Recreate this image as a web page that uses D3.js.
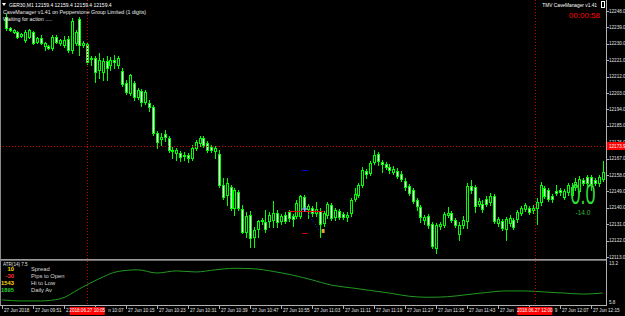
<!DOCTYPE html>
<html>
<head>
<meta charset="utf-8">
<script src="https://cdn.jsdelivr.net/npm/d3@7"></script>
<style>
body { margin: 0; background: #000; }
svg { display: block; }
text { font-family: "Liberation Sans", Arial, sans-serif; }
</style>
</head>
<body>
<svg id="chart" width="625" height="316"></svg>
<script>
// GER30 M1 bars, 27 Jun 2018 from 09:44, [open, high, low, close]
var firstBar = 1;
var candles = [
    [12244.7,12246.4,12237.6,12238.7],[12238.7,12239.2,12237.0,12237.6],[12236.5,12238.1,12235.9,12237.6],[12236.5,12237.0,12233.2,12233.7],
    [12234.3,12235.9,12233.7,12235.4],[12232.1,12237.6,12231.0,12236.5],[12233.7,12238.1,12233.2,12237.6],[12236.5,12237.0,12229.9,12230.4],
    [12231.0,12233.7,12230.4,12233.2],[12233.2,12234.8,12229.9,12230.4],[12228.8,12231.0,12226.6,12230.4],[12228.8,12229.3,12227.1,12227.7],
    [12227.7,12234.8,12226.6,12233.7],[12233.7,12234.8,12230.4,12231.0],[12230.4,12232.6,12229.3,12232.1],[12229.3,12234.3,12228.2,12232.1],
    [12232.6,12234.3,12225.5,12226.6],[12226.6,12244.2,12225.0,12242.5],[12230.4,12237.6,12229.3,12236.5],[12243.6,12244.7,12223.9,12229.3],
    [12229.3,12231.5,12228.2,12230.4],[12229.9,12231.0,12218.9,12220.0],[12221.6,12223.3,12218.4,12222.2],[12222.2,12223.3,12209.0,12214.5],
    [12215.6,12225.0,12211.2,12221.1],[12214.5,12222.2,12210.1,12220.6],[12220.6,12223.3,12210.1,12216.7],[12218.4,12222.7,12215.6,12221.1],
    [12221.1,12223.9,12216.7,12220.0],[12218.4,12223.3,12216.7,12222.2],[12215.1,12216.7,12206.8,12207.9],[12208.5,12210.1,12202.4,12203.5],
    [12203.0,12213.4,12201.9,12212.9],[12208.5,12209.6,12199.2,12200.8],[12200.8,12205.7,12199.7,12204.6],[12204.1,12205.2,12195.9,12198.1],
    [12198.1,12204.6,12197.0,12203.5],[12197.5,12199.2,12193.1,12195.3],[12195.3,12196.4,12179.9,12181.0],[12181.0,12182.1,12172.8,12176.1],
    [12177.8,12181.0,12174.5,12178.8],[12180.5,12182.7,12176.7,12178.8],[12178.3,12179.4,12170.6,12171.7],[12171.7,12173.4,12167.3,12171.2],
    [12170.1,12172.8,12166.2,12171.7],[12170.1,12171.2,12165.7,12167.9],[12169.0,12170.6,12166.2,12168.4],[12169.0,12170.1,12165.1,12167.3],
    [12167.3,12174.5,12166.2,12172.8],[12172.8,12177.2,12171.7,12176.1],[12175.6,12179.4,12173.9,12178.3],[12178.3,12179.4,12173.4,12174.5],
    [12175.6,12176.7,12170.6,12171.7],[12173.4,12174.5,12170.6,12171.7],[12171.2,12173.9,12167.3,12172.8],[12169.5,12171.7,12151.4,12152.5],
    [12152.5,12156.4,12144.8,12145.9],[12147.0,12156.4,12141.5,12153.6],[12151.4,12152.5,12138.8,12139.9],[12139.9,12150.9,12136.0,12149.8],
    [12148.7,12149.8,12138.8,12139.9],[12139.3,12141.5,12126.2,12126.7],[12126.7,12137.7,12124.0,12135.5],[12136.0,12138.2,12118.5,12123.4],
    [12124.0,12129.5,12118.5,12127.8],[12128.4,12133.3,12124.0,12132.8],[12133.3,12134.4,12131.1,12132.8],[12132.2,12138.8,12126.7,12128.4],
    [12132.8,12137.7,12129.5,12136.0],[12133.3,12143.7,12129.5,12137.1],[12137.1,12138.8,12129.5,12132.2],[12132.8,12136.6,12131.1,12135.5],
    [12136.0,12137.7,12131.7,12132.8],[12137.7,12138.8,12132.8,12134.4],[12135.5,12136.6,12130.0,12133.9],[12135.5,12144.3,12134.4,12142.6],
    [12135.5,12147.0,12134.4,12146.5],[12145.9,12147.0,12138.8,12140.4],[12139.3,12142.1,12134.4,12141.0],[12139.9,12141.0,12135.5,12137.1],
    [12137.1,12143.2,12135.5,12139.3],[12138.2,12139.9,12124.0,12131.1],[12131.7,12138.2,12130.0,12137.1],[12136.0,12143.2,12134.4,12142.1],
    [12141.5,12142.6,12133.3,12134.4],[12134.9,12139.9,12133.3,12138.8],[12138.2,12139.3,12133.9,12134.9],[12136.6,12137.7,12133.9,12134.9],
    [12134.9,12137.7,12132.8,12136.0],[12137.1,12145.4,12135.5,12144.3],[12144.8,12150.9,12143.7,12147.6],[12147.0,12153.6,12145.9,12152.5],
    [12152.5,12162.4,12151.4,12160.7],[12160.2,12161.3,12156.4,12158.5],[12159.1,12165.7,12158.0,12164.6],[12165.1,12171.7,12164.0,12169.0],
    [12169.5,12170.6,12163.5,12165.7],[12165.1,12166.2,12159.6,12164.0],[12164.0,12165.1,12161.3,12162.4],[12162.4,12164.0,12159.1,12160.7],
    [12159.6,12162.9,12158.5,12161.3],[12160.2,12161.8,12156.4,12157.4],[12158.5,12160.2,12154.7,12155.8],[12154.7,12156.4,12149.8,12151.4],
    [12152.0,12153.1,12147.0,12148.1],[12149.8,12150.9,12142.6,12143.7],[12144.3,12145.4,12138.8,12141.0],[12140.4,12141.5,12132.2,12134.9],
    [12133.3,12136.0,12131.1,12134.9],[12135.5,12136.6,12128.9,12130.6],[12131.1,12132.2,12117.9,12119.0],[12117.9,12131.7,12115.2,12130.6],
    [12130.0,12132.2,12128.4,12131.1],[12130.6,12137.7,12129.5,12136.6],[12136.0,12140.4,12134.9,12137.1],[12137.1,12138.2,12132.2,12133.3],
    [12133.3,12134.4,12129.5,12130.6],[12125.6,12132.2,12122.3,12130.6],[12130.6,12135.5,12128.9,12133.3],[12132.8,12153.6,12128.9,12152.0],
    [12152.0,12155.3,12148.1,12149.8],[12151.4,12152.5,12137.7,12141.0],[12142.1,12145.4,12141.0,12143.7],[12142.1,12144.3,12137.7,12139.3],
    [12144.8,12146.5,12141.0,12142.1],[12143.2,12148.1,12141.5,12146.5],[12146.5,12147.6,12131.7,12132.8],[12131.7,12134.9,12130.0,12133.9],
    [12132.8,12133.9,12127.8,12128.9],[12128.4,12134.9,12122.3,12133.9],[12131.7,12136.0,12130.0,12134.4],[12133.3,12134.4,12128.4,12129.5],
    [12133.9,12138.8,12132.2,12137.7],[12137.1,12141.0,12136.0,12139.9],[12139.3,12142.6,12138.2,12141.5],[12139.9,12141.0,12136.6,12137.7],
    [12138.8,12141.5,12137.1,12139.9],[12139.9,12145.4,12131.1,12143.2],[12143.2,12154.2,12141.5,12152.5],[12150.9,12152.0,12145.4,12146.5],
    [12149.8,12150.9,12143.7,12144.8],[12146.5,12147.6,12143.2,12144.8],[12149.2,12152.5,12147.0,12148.1],[12149.8,12150.9,12147.0,12148.7],
    [12145.9,12150.3,12144.8,12149.2],[12148.7,12153.6,12147.0,12152.5],[12147.0,12153.6,12145.9,12151.4],[12151.4,12156.4,12149.8,12154.2],
    [12149.2,12157.4,12148.1,12155.8],[12155.3,12156.4,12152.5,12153.6],[12156.9,12158.0,12152.0,12153.6],[12156.9,12158.0,12149.8,12153.1],
    [12155.3,12156.4,12152.5,12153.6],[12153.6,12158.0,12152.0,12156.9],[12155.8,12165.7,12154.7,12159.6]
];

var priceTicks = [12113, 12122, 12131, 12140, 12149, 12158, 12167, 12176, 12185, 12194, 12203, 12212, 12221, 12230, 12239, 12248];

var timeTickBars = [0, 8, 16, 24, 32, 40, 48, 56, 64, 72, 80, 88, 96, 104, 112, 120, 128, 136, 144, 152];
var timeTickLabels = ["27 Jun 2018", "27 Jun 09:51", "27 Jun 09:59", "27 Jun 10:07", "27 Jun 10:15", "27 Jun 10:23",
    "27 Jun 10:31", "27 Jun 10:39", "27 Jun 10:47", "27 Jun 10:55", "27 Jun 11:03", "27 Jun 11:11", "27 Jun 11:19",
    "27 Jun 11:27", "27 Jun 11:35", "27 Jun 11:43", "27 Jun 11:51", "27 Jun 11:59", "27 Jun 12:07", "27 Jun 12:15"];

// ATR(14), read every 5 bars
var atrBars = [0, 5, 10, 15, 20, 25, 30, 35, 40, 45, 50, 55, 60, 65, 70, 75, 80, 85, 90, 95, 100, 105, 110, 115, 120, 125, 130, 135, 140, 145, 150, 155];
var atrValues = [6.2, 6.0, 6.0, 6.4, 8.3, 10.2, 11.6, 11.9, 11.3, 11.7, 11.5, 11.9, 12.2, 12.1, 11.6, 10.9, 10.0, 9.0, 8.5, 8.0, 7.5, 6.9, 6.7, 6.8, 7.2, 7.6, 7.9, 7.9, 7.7, 7.5, 7.3, 7.5];
var atrTicks = [5.8, 13.2];

// crosshair style lines
var vLineBars = [22, 137.5];
var vLineLabels = ["2018.06.27 10:05", "2018.06.27 12:00"];
var hLinePrice = 12173.9;

// CaveManager info block
var infoValues = ["10", "-30", "1543", "1895"];
var infoNames = ["Spread", "Pips to Open", "Hi to Low", "Daily Av"];
var infoColors = ["#ffd700", "#ff3030", "#ffd700", "#32cd32"];

(function() {
    var svg = d3.select("#chart");
    var plotRight = 606, mainBottom = 259, atrTop = 261, atrBottom = 304, axisY = 305;

    var x = d3.scaleLinear().domain([0, 155]).range([2, 602.6]);
    var y = d3.scaleLinear().domain([12113, 12248]).range([257, 11]);
    var yAtr = d3.scaleLinear().domain([5.8, 13.2]).range([302, 263]);

    svg.append("rect").attr("width", 625).attr("height", 316).attr("fill", "#000");

    var defs = svg.append("defs");
    defs.append("clipPath").attr("id", "mainClip").append("rect")
        .attr("x", 0).attr("y", 0).attr("width", plotRight).attr("height", mainBottom);
    defs.append("clipPath").attr("id", "atrClip").append("rect")
        .attr("x", 0).attr("y", atrTop).attr("width", plotRight).attr("height", atrBottom - atrTop);

    function cx(i) { return Math.round(x(i + firstBar)); }

    // candles
    var g = svg.append("g").attr("clip-path", "url(#mainClip)");
    var bars = g.selectAll("g.bar").data(candles).enter().append("g").attr("class", "bar");

    bars.append("line")
        .attr("x1", function(d, i) { return cx(i) + 0.5; })
        .attr("x2", function(d, i) { return cx(i) + 0.5; })
        .attr("y1", function(d) { return Math.round(y(d[1])); })
        .attr("y2", function(d) { return Math.round(y(d[2])) + 1; })
        .attr("stroke", "#00ff00");

    bars.append("rect")
        .attr("x", function(d, i) { return cx(i) - 0.5; })
        .attr("y", function(d) { return Math.round(y(Math.max(d[0], d[3]))) + 0.5; })
        .attr("width", 2)
        .attr("height", function(d) {
            var h = Math.round(y(Math.min(d[0], d[3]))) - Math.round(y(Math.max(d[0], d[3])));
            return Math.max(h, 1);
        })
        .attr("fill", function(d) { return d[3] < d[0] ? "#ffffff" : "#000000"; })
        .attr("stroke", "#00ff00");

    // trade objects around 11:00
    g.append("line")
        .attr("x1", x(74)).attr("x2", x(83))
        .attr("y1", Math.round(y(12138.2)) + 0.5).attr("y2", Math.round(y(12138.2)) + 0.5)
        .attr("stroke", "#e00000");
    g.append("line")
        .attr("x1", x(78) - 2).attr("x2", x(78) + 3)
        .attr("y1", Math.round(y(12160.7)) + 0.5).attr("y2", Math.round(y(12160.7)) + 0.5)
        .attr("stroke", "#0000ee");
    g.append("line")
        .attr("x1", x(78) - 2).attr("x2", x(78) + 3)
        .attr("y1", Math.round(y(12126.2)) + 0.5).attr("y2", Math.round(y(12126.2)) + 0.5)
        .attr("stroke", "#e00000");
    g.append("line")
        .attr("x1", x(79)).attr("x2", x(82))
        .attr("y1", y(12136.6)).attr("y2", y(12127.3))
        .attr("stroke", "#1a3cff").attr("stroke-dasharray", "1,2");
    g.append("path")
        .attr("d", "M" + (x(78) - 2) + "," + y(12139.3) + "h5M" + (x(78) + 0.5) + "," + (y(12139.3) - 2.5) + "v5")
        .attr("stroke", "#8fb4ff").attr("stroke-width", 1.5);
    g.append("rect")
        .attr("x", x(83) - 2).attr("y", y(12127.3) - 2).attr("width", 3).attr("height", 4)
        .attr("fill", "#f0a040");

    // horizontal dotted line
    svg.append("line")
        .attr("x1", 0).attr("x2", plotRight)
        .attr("y1", Math.round(y(hLinePrice)) + 0.5).attr("y2", Math.round(y(hLinePrice)) + 0.5)
        .attr("stroke", "#d00000").attr("stroke-dasharray", "1,2");

    // ATR panel
    svg.append("line").attr("x1", 0).attr("x2", plotRight).attr("y1", mainBottom + 0.5).attr("y2", mainBottom + 0.5).attr("stroke", "#9a9a9a");
    svg.append("line").attr("x1", 0).attr("x2", plotRight).attr("y1", atrTop - 0.5).attr("y2", atrTop - 0.5).attr("stroke", "#6a6a6a");
    var atrLine = d3.line()
        .x(function(d, i) { return x(atrBars[i]); })
        .y(function(d) { return yAtr(d); })
        .curve(d3.curveMonotoneX);
    svg.append("path")
        .datum(atrValues)
        .attr("clip-path", "url(#atrClip)")
        .attr("d", atrLine)
        .attr("fill", "none")
        .attr("stroke", "#1f9a1f")
        .attr("stroke-width", 1);

    // vertical dotted lines
    vLineBars.forEach(function(b) {
        var vx = Math.round(x(b)) + 0.5;
        svg.append("line").attr("x1", vx).attr("x2", vx).attr("y1", 0).attr("y2", axisY)
            .attr("stroke", "#d00000").attr("stroke-dasharray", "1,2");
    });

    // price axis
    svg.append("line").attr("x1", plotRight + 0.5).attr("x2", plotRight + 0.5).attr("y1", 0).attr("y2", axisY)
        .attr("stroke", "#b0b0b0");
    var pAxis = svg.append("g");
    pAxis.selectAll("line").data(priceTicks).enter().append("line")
        .attr("x1", plotRight).attr("x2", plotRight + 3)
        .attr("y1", function(d) { return Math.round(y(d)) + 0.5; })
        .attr("y2", function(d) { return Math.round(y(d)) + 0.5; })
        .attr("stroke", "#b0b0b0");
    pAxis.selectAll("text").data(priceTicks).enter().append("text")
        .attr("x", plotRight + 3)
        .attr("y", function(d) { return y(d) + 1.6; })
        .attr("font-size", "4.6px").attr("fill", "#e0e0e0")
        .text(function(d) { return d3.format(".1f")(d); });

    var aAxis = svg.append("g");
    aAxis.selectAll("text").data(atrTicks).enter().append("text")
        .attr("x", plotRight + 3)
        .attr("y", function(d) { return yAtr(d) + 1.6; })
        .attr("font-size", "4.6px").attr("fill", "#e0e0e0")
        .text(function(d) { return d3.format(".1f")(d); });

    // price tag of the dotted line
    var py = y(hLinePrice);
    svg.append("rect").attr("x", plotRight + 1).attr("y", py - 4).attr("width", 18).attr("height", 8).attr("fill", "#ff0000");
    svg.append("text").attr("x", plotRight + 3).attr("y", py + 1.6)
        .attr("font-size", "4.6px").attr("fill", "#ffffff").text(d3.format(".1f")(hLinePrice));

    // time axis
    svg.append("line").attr("x1", 0).attr("x2", plotRight + 1).attr("y1", axisY + 0.5).attr("y2", axisY + 0.5)
        .attr("stroke", "#b0b0b0");
    var tAxis = svg.append("g");
    tAxis.selectAll("line").data(timeTickBars).enter().append("line")
        .attr("x1", function(d) { return Math.round(x(d)) + 0.5; })
        .attr("x2", function(d) { return Math.round(x(d)) + 0.5; })
        .attr("y1", axisY).attr("y2", axisY + 4)
        .attr("stroke", "#b0b0b0");

    var tagW = 35;
    var tLabels = tAxis.selectAll("text").data(timeTickBars).enter().append("text")
        .attr("x", function(d) { return x(d) + 2; })
        .attr("y", 312)
        .attr("font-size", "4.6px").attr("fill", "#e0e0e0")
        .text(function(d, i) { return timeTickLabels[i]; });

    // the red time tags hide part of the labels below them: keep only the characters left visible
    tLabels.each(function(d) {
        var node = this, tx = x(d) + 2, full = node.textContent;
        var len = node.getComputedTextLength();
        vLineBars.forEach(function(b) {
            var left = x(b) - tagW / 2 - 1, right = x(b) + tagW / 2 + 1;
            if (tx >= right || tx + len <= left) return;
            var n;
            if (tx < left) {
                for (n = full.length; n > 0 && node.getSubStringLength(0, n) > left - tx; n--) {}
                d3.select(node).text(full.slice(0, n));
            } else {
                for (n = 0; n < full.length && node.getSubStringLength(0, n) < right - tx; n++) {}
                var shift = node.getSubStringLength(0, n);
                d3.select(node).attr("x", tx + shift).text(full.slice(n));
            }
        });
    });

    vLineBars.forEach(function(b, i) {
        var vx = x(b);
        svg.append("rect").attr("x", vx - tagW / 2).attr("y", axisY + 2).attr("width", tagW).attr("height", 8).attr("fill", "#ff0000");
        svg.append("text").attr("x", vx).attr("y", 312).attr("text-anchor", "middle")
            .attr("font-size", "4.6px").attr("fill", "#ffffff").text(vLineLabels[i]);
    });

    // header texts
    svg.append("path").attr("d", "M2,3h4l-2,3z").attr("fill", "#ffffff");
    svg.append("text").attr("x", 9).attr("y", 7).attr("font-size", "5px").attr("fill", "#ffffff")
        .text("GER30,M1  12159.4 12159.4 12159.4 12159.4");
    svg.append("text").attr("x", 3).attr("y", 14).attr("font-size", "5.3px").attr("fill", "#e8e8e8")
        .text("CaveManager v1.41 on Pepperstone Group Limited (1 digits)");
    svg.append("text").attr("x", 3).attr("y", 20.5).attr("font-size", "5.3px").attr("fill", "#e8e8e8")
        .text("Waiting for action .....");

    svg.append("text").attr("x", 597).attr("y", 7).attr("text-anchor", "end").attr("font-size", "4.8px").attr("fill", "#ffffff")
        .text("TMV CaveManager v1.41");
    svg.append("rect").attr("x", 601.5).attr("y", 1.5).attr("width", 3).attr("height", 6).attr("fill", "none").attr("stroke", "#ffffff");
    svg.append("text").attr("x", 600).attr("y", 17.5).attr("text-anchor", "end").attr("font-size", "8px").attr("fill", "#ff0000")
        .text("00:00:58");

    svg.append("text").attr("x", 583).attr("y", 204).attr("text-anchor", "middle").attr("font-size", "29px").attr("fill", "#32dc32")
        .attr("transform", "translate(583,0) scale(0.62,1) translate(-583,0)")
        .text("0.0");
    svg.append("text").attr("x", 583).attr("y", 215).attr("text-anchor", "middle").attr("font-size", "6.5px").attr("fill", "#2fb82f")
        .text("-14.0");

    // ATR panel texts
    svg.append("text").attr("x", 3).attr("y", 265.5).attr("font-size", "4.6px").attr("fill", "#e0e0e0").text("ATR(14) 7.5");
    infoNames.forEach(function(n, i) {
        var ty = 270.5 + i * 7;
        svg.append("text").attr("x", 14).attr("y", ty).attr("text-anchor", "end").attr("font-size", "5.8px")
            .attr("font-weight", "bold").attr("fill", infoColors[i]).text(infoValues[i]);
        svg.append("text").attr("x", 31).attr("y", ty).attr("font-size", "5.8px").attr("fill", "#d8d8d8").text(n);
    });

    // chart frame left edge
    svg.append("line").attr("x1", 0.5).attr("x2", 0.5).attr("y1", 0).attr("y2", axisY).attr("stroke", "#8a8a8a");
}());
</script>
</body>
</html>
